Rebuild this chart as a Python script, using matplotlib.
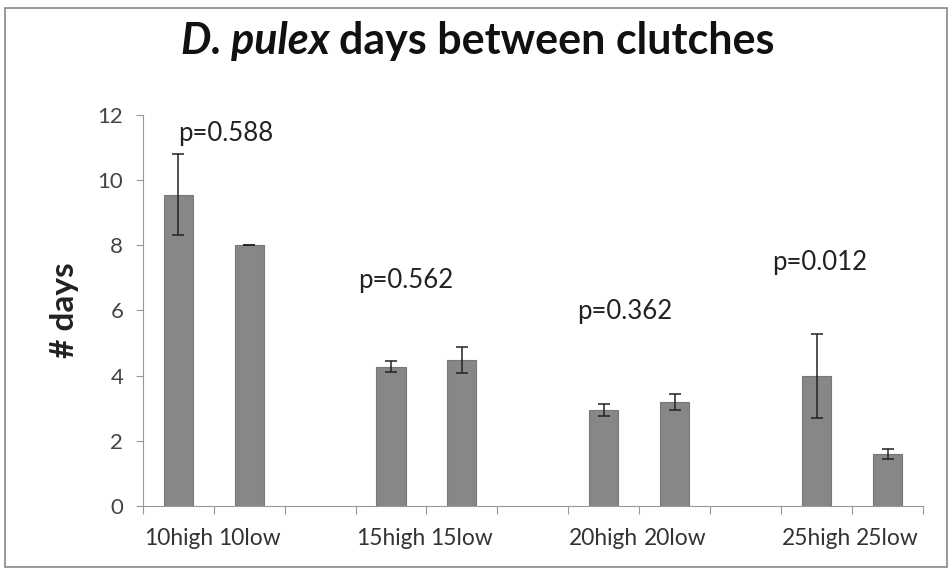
import numpy as np
import matplotlib.pyplot as plt
from matplotlib.patches import Rectangle

# --- Data ---
categories = ['10high', '10low', '', '15high', '15low', '',
              '20high', '20low', '', '25high', '25low']
days = [9.55, 8.0, np.nan, 4.27, 4.47, np.nan,
        2.95, 3.19, np.nan, 3.99, 1.59]
errs = [1.25, 0.0, np.nan, 0.17, 0.40, np.nan,
        0.18, 0.24, np.nan, 1.30, 0.16]
p_labels = ['p=0.588', 'p=0.562', 'p=0.362', 'p=0.012']
p_x = [0.0, 2.54, 5.62, 8.37]
p_y = [11.44, 6.93, 5.95, 7.48]

plt.rcParams['font.family'] = ['Lato', 'DejaVu Sans']

fig = plt.figure(figsize=(9.52, 5.72), dpi=100)
ax = fig.add_axes([0.150, 0.1154, 0.8195, 0.684])

x = np.arange(len(categories))
ax.bar(x, days, width=0.41, color='#878787', edgecolor='#777777', linewidth=0.8)
ax.errorbar(x, days, yerr=errs, fmt='none', ecolor='#222222',
            elinewidth=1.1, capsize=4, capthick=1.1)

for lab, px, py in zip(p_labels, p_x, p_y):
    ax.text(px, py, lab, fontsize=18.5, color='#222222', ha='left', va='center')

ax.set_xlim(-0.5, len(categories) - 0.5)
ax.set_ylim(0, 12)
ax.set_yticks(np.arange(0, 13, 2))
ax.tick_params(axis='y', labelsize=16, labelcolor='#444444', color='#999999',
               length=5, pad=9)

# ticks between categories, labels at centres (Excel style)
ax.set_xticks(np.arange(-0.5, len(categories), 1.0))
ax.set_xticklabels([])
ax.set_xticks(x, minor=True)
ax.set_xticklabels(categories, minor=True)
ax.tick_params(axis='x', which='major', length=6, color='#999999')
ax.tick_params(axis='x', which='minor', length=0, pad=16,
               labelsize=16.4, labelcolor='#333333')

for s in ['top', 'right']:
    ax.spines[s].set_visible(False)
for s in ['left', 'bottom']:
    ax.spines[s].set_color('#999999')

ax.set_ylabel('# days', fontsize=24, fontweight='bold', color='#222222')
ax.yaxis.set_label_coords(-0.082, 0.5)

# title: italic species name followed by upright text
renderer = fig.canvas.get_renderer()
t1 = fig.text(0, 0.928, 'D. pulex ', fontsize=31, fontweight='bold', style='italic',
              color='#111111', ha='left', va='center')
t2 = fig.text(0, 0.928, 'days between clutches', fontsize=31, fontweight='bold',
              color='#111111', ha='left', va='center')
w1 = t1.get_window_extent(renderer).width / fig.bbox.width
w2 = t2.get_window_extent(renderer).width / fig.bbox.width
x0 = 0.502 - (w1 + w2) / 2
t1.set_x(x0)
t2.set_x(x0 + w1)

fig.add_artist(Rectangle((0.005, 0.008), 0.99, 0.978, transform=fig.transFigure,
                         fill=False, edgecolor='#888888', linewidth=1.2))

fig.savefig('out.png', dpi=100)
